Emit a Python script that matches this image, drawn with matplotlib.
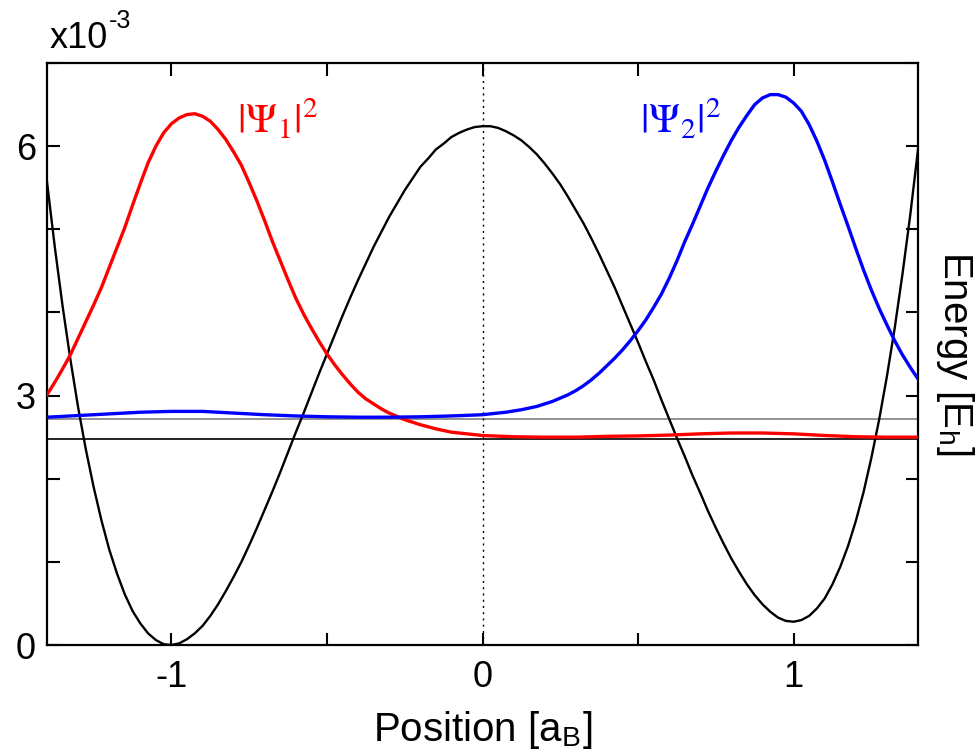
import numpy as np
import matplotlib
matplotlib.use("Agg")
import matplotlib.pyplot as plt
from matplotlib.ticker import MultipleLocator

plt.rcParams['font.family'] = ['Liberation Sans', 'DejaVu Sans']
plt.rcParams['mathtext.fontset'] = 'stix'

# positions [a_B] for the potential, every 0.025
x_pot = np.round(np.arange(-1.4, 1.40001, 0.025), 3)

# double well potential (x1e-3 E_h)
potential = [5.57, 4.79, 4.08, 3.44, 2.86, 2.35, 1.90, 1.50, 1.15, 0.86,
             0.61, 0.41, 0.26, 0.14, 0.06, 0.01, 0.00, 0.02, 0.07, 0.14,
             0.23, 0.35, 0.49, 0.65, 0.82, 1.00, 1.20, 1.41, 1.63, 1.85,
             2.08, 2.32, 2.56, 2.79, 3.03, 3.27, 3.50, 3.73, 3.96, 4.18,
             4.39, 4.59, 4.79, 4.97, 5.15, 5.31, 5.47, 5.61, 5.75, 5.85,
             5.96, 6.03, 6.11, 6.16, 6.20, 6.23, 6.24, 6.24, 6.22, 6.18,
             6.13, 6.07, 5.99, 5.90, 5.79, 5.67, 5.54, 5.39, 5.23, 5.07,
             4.89, 4.70, 4.50, 4.30, 4.08, 3.86, 3.64, 3.41, 3.19, 2.95,
             2.72, 2.49, 2.27, 2.04, 1.83, 1.61, 1.41, 1.22, 1.04, 0.88,
             0.73, 0.60, 0.49, 0.40, 0.33, 0.29, 0.28, 0.30, 0.35, 0.44,
             0.56, 0.73, 0.94, 1.19, 1.49, 1.84, 2.25, 2.71, 3.23, 3.81,
             4.46, 5.17, 5.96]

# |psi_1|^2 drawn on level E1
x_psi1 = [-1.4, -1.375, -1.35, -1.325, -1.3, -1.275, -1.25, -1.225, -1.2,
          -1.175, -1.15, -1.125, -1.1, -1.075, -1.05, -1.025, -1.0, -0.975,
          -0.95, -0.925, -0.9, -0.875, -0.85, -0.825, -0.8, -0.775, -0.75,
          -0.725, -0.7, -0.675, -0.65, -0.625, -0.6, -0.575, -0.55, -0.525,
          -0.5, -0.475, -0.45, -0.425, -0.4, -0.375, -0.35, -0.325, -0.3,
          -0.275, -0.25, -0.225, -0.2, -0.15, -0.1, -0.05, 0.0, 0.1, 0.2,
          0.3, 0.4, 0.5, 0.6, 0.7, 0.8, 0.9, 1.0, 1.1, 1.2, 1.3, 1.4]
psi1 = [3.01, 3.16, 3.32, 3.49, 3.69, 3.89, 4.09, 4.30, 4.54, 4.78,
        5.02, 5.29, 5.55, 5.80, 6.00, 6.16, 6.27, 6.34, 6.38, 6.39,
        6.36, 6.30, 6.20, 6.08, 5.93, 5.77, 5.56, 5.34, 5.10, 4.85,
        4.62, 4.39, 4.17, 3.98, 3.81, 3.65, 3.50, 3.37, 3.25, 3.14,
        3.04, 2.96, 2.90, 2.84, 2.79, 2.75, 2.71, 2.68, 2.65, 2.60,
        2.56, 2.54, 2.52, 2.505, 2.50, 2.50, 2.51, 2.515, 2.525, 2.54,
        2.55, 2.55, 2.54, 2.52, 2.505, 2.50, 2.50]

# |psi_2|^2 drawn on level E2
x_psi2 = [-1.4, -1.3, -1.2, -1.1, -1.0, -0.9, -0.8, -0.7, -0.6, -0.5, -0.4,
          -0.3, -0.2, -0.1, 0.0, 0.025, 0.05, 0.075, 0.1, 0.125, 0.15, 0.175,
          0.2, 0.225, 0.25, 0.275, 0.3, 0.325, 0.35, 0.375, 0.4, 0.425, 0.45,
          0.475, 0.5, 0.525, 0.55, 0.575, 0.6, 0.625, 0.65, 0.675, 0.7,
          0.725, 0.75, 0.775, 0.8, 0.825, 0.85, 0.875, 0.9, 0.925, 0.95,
          0.975, 1.0, 1.025, 1.05, 1.075, 1.1, 1.125, 1.15, 1.175, 1.2,
          1.225, 1.25, 1.275, 1.3, 1.325, 1.35, 1.375, 1.4]
psi2 = [2.74, 2.76, 2.78, 2.80, 2.81, 2.81, 2.79, 2.77, 2.755, 2.745, 2.74,
        2.74, 2.745, 2.755, 2.77, 2.78, 2.79, 2.80, 2.815, 2.83, 2.85, 2.87,
        2.90, 2.93, 2.97, 3.01, 3.06, 3.12, 3.19, 3.27, 3.36, 3.45, 3.55,
        3.66, 3.78, 3.91, 4.06, 4.22, 4.41, 4.62, 4.85, 5.06, 5.28,
        5.50, 5.70, 5.89, 6.07, 6.23, 6.37, 6.50, 6.58, 6.62, 6.62,
        6.59, 6.52, 6.42, 6.26, 6.06, 5.83, 5.57, 5.30, 5.04, 4.77,
        4.51, 4.27, 4.05, 3.85, 3.66, 3.49, 3.34, 3.20]

E1 = 2.475
E2 = 2.72

fig = plt.figure(figsize=(9.79, 7.53), dpi=100)
ax = fig.add_axes([0.048, 0.1434, 0.8897, 0.7729])

ax.axhline(E2, color='#808080', lw=1.2, zorder=1)
ax.axhline(E1, color='black', lw=1.2, zorder=1)
ax.axvline(0, color='black', lw=1.0, ls=(0, (1.5, 3)), zorder=1)

ax.plot(x_pot, potential, color='black', lw=1.7, zorder=2)
ax.plot(x_psi1, psi1, color='red', lw=2.4, zorder=3)
ax.plot(x_psi2, psi2, color='blue', lw=2.4, zorder=3)

ax.text(-0.79, 6.16, r'$|\Psi_1|^2$', color='red', fontsize=30, va='baseline')
ax.text(0.505, 6.16, r'$|\Psi_2|^2$', color='blue', fontsize=30, va='baseline')

ax.set_xlim(-1.4, 1.4)
ax.set_ylim(0, 7)
ax.set_xticks([-1, 0, 1])
ax.set_xticklabels(['-1', '0', '1'])
ax.xaxis.set_minor_locator(MultipleLocator(0.5))
ax.set_yticks([0, 3, 6])
ax.yaxis.set_minor_locator(MultipleLocator(1))

ax.tick_params(which='both', direction='in', top=True, right=True,
               length=9, width=1.5, labelsize=26)
ax.tick_params(axis='x', pad=11)
ax.tick_params(axis='y', pad=8)
for sp in ax.spines.values():
    sp.set_linewidth(1.6)

ax.set_xlabel(r'Position [a$_\mathregular{B}$]', fontsize=29, labelpad=10)
ax.yaxis.set_label_position('right')
ax.set_ylabel(r'Energy [E$_\mathregular{h}$]', fontsize=29, rotation=-90,
              labelpad=42)

# scale factor of the y axis, written as in the original
fig.text(0.051, 0.936, 'x10', fontsize=26, ha='left', va='baseline')
fig.text(0.111, 0.963, '-3', fontsize=18, ha='left', va='baseline')

fig.savefig('out.png', dpi=100)
